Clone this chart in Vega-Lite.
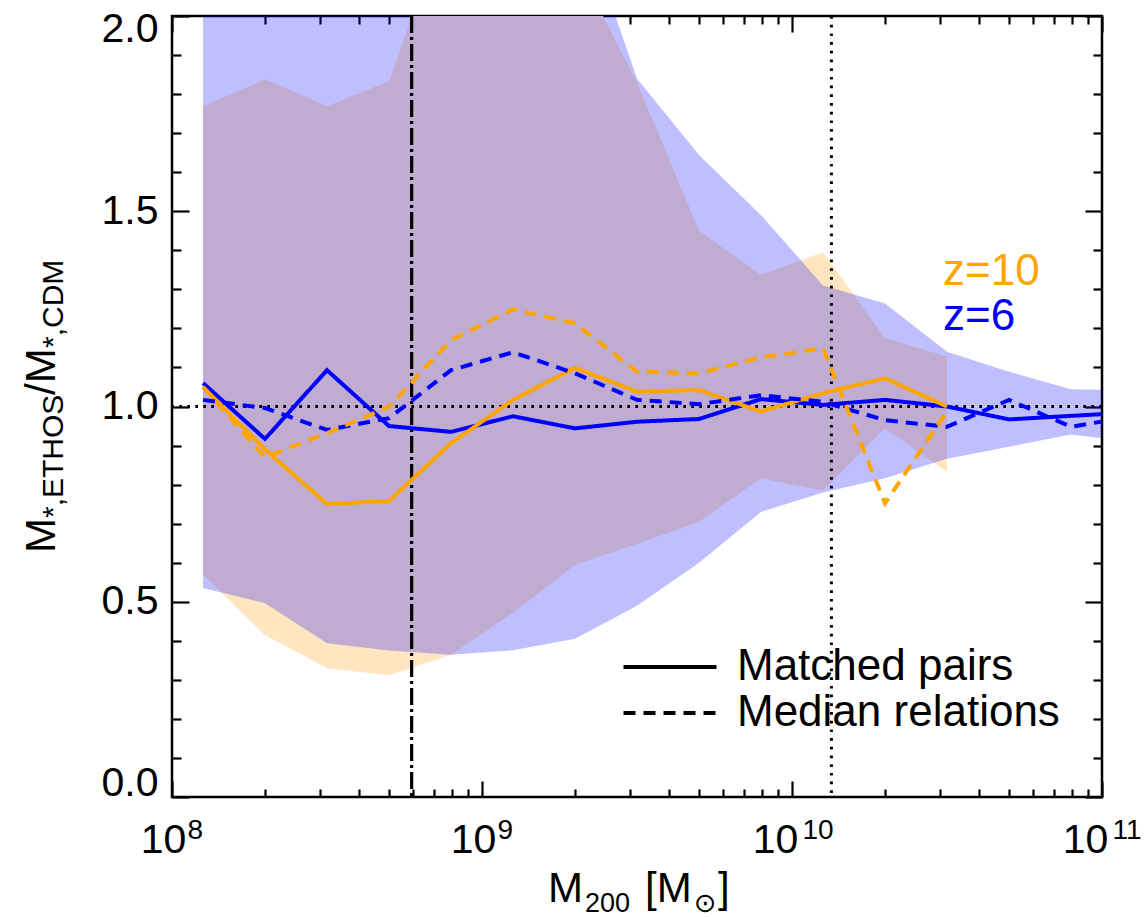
{
  "$schema": "https://vega.github.io/schema/vega-lite/v6.json",
  "width": 930,
  "height": 781,
  "autosize": {"type": "none"},
  "padding": {"left": 172, "top": 16, "right": 44, "bottom": 120},
  "background": "white",
  "config": {
    "font": "Liberation Sans",
    "view": {"stroke": "black", "strokeWidth": 2.5},
    "axis": {"grid": false, "domain": false, "tickColor": "black", "tickWidth": 2.2, "labelFont": "Liberation Sans", "labelColor": "black"}
  },
  "datasets": {
    "bands": [
      {"m": 1.259e8, "z": "z=6", "lo": 0.535, "hi": 2.6},
      {"m": 1.995e8, "z": "z=6", "lo": 0.496, "hi": 2.6},
      {"m": 3.162e8, "z": "z=6", "lo": 0.394, "hi": 2.6},
      {"m": 5.012e8, "z": "z=6", "lo": 0.375, "hi": 2.6},
      {"m": 7.943e8, "z": "z=6", "lo": 0.364, "hi": 2.6},
      {"m": 1.259e9, "z": "z=6", "lo": 0.376, "hi": 2.6},
      {"m": 1.995e9, "z": "z=6", "lo": 0.405, "hi": 2.3},
      {"m": 3.162e9, "z": "z=6", "lo": 0.49, "hi": 1.84},
      {"m": 5.012e9, "z": "z=6", "lo": 0.60, "hi": 1.644},
      {"m": 7.943e9, "z": "z=6", "lo": 0.73, "hi": 1.49},
      {"m": 1.259e10, "z": "z=6", "lo": 0.78, "hi": 1.31},
      {"m": 1.995e10, "z": "z=6", "lo": 0.816, "hi": 1.264},
      {"m": 3.162e10, "z": "z=6", "lo": 0.866, "hi": 1.14},
      {"m": 5.012e10, "z": "z=6", "lo": 0.897, "hi": 1.089},
      {"m": 7.943e10, "z": "z=6", "lo": 0.928, "hi": 1.044},
      {"m": 1.259e11, "z": "z=6", "lo": 0.91, "hi": 1.042},
      {"m": 1.259e8, "z": "z=10", "lo": 0.57, "hi": 1.768},
      {"m": 1.995e8, "z": "z=10", "lo": 0.415, "hi": 1.838},
      {"m": 3.162e8, "z": "z=10", "lo": 0.33, "hi": 1.769},
      {"m": 5.012e8, "z": "z=10", "lo": 0.312, "hi": 1.833},
      {"m": 7.943e8, "z": "z=10", "lo": 0.364, "hi": 2.28},
      {"m": 1.259e9, "z": "z=10", "lo": 0.472, "hi": 2.4},
      {"m": 1.995e9, "z": "z=10", "lo": 0.594, "hi": 2.14},
      {"m": 3.162e9, "z": "z=10", "lo": 0.648, "hi": 1.83},
      {"m": 5.012e9, "z": "z=10", "lo": 0.705, "hi": 1.45},
      {"m": 7.943e9, "z": "z=10", "lo": 0.816, "hi": 1.337},
      {"m": 1.259e10, "z": "z=10", "lo": 0.785, "hi": 1.395},
      {"m": 1.995e10, "z": "z=10", "lo": 0.944, "hi": 1.175},
      {"m": 3.162e10, "z": "z=10", "lo": 0.833, "hi": 1.128}
    ],
    "lines": [
      {"m": 1.259e8, "z": "z=6", "kind": "Matched pairs", "ratio": 1.06},
      {"m": 1.995e8, "z": "z=6", "kind": "Matched pairs", "ratio": 0.917},
      {"m": 3.162e8, "z": "z=6", "kind": "Matched pairs", "ratio": 1.093},
      {"m": 5.012e8, "z": "z=6", "kind": "Matched pairs", "ratio": 0.95},
      {"m": 7.943e8, "z": "z=6", "kind": "Matched pairs", "ratio": 0.935},
      {"m": 1.259e9, "z": "z=6", "kind": "Matched pairs", "ratio": 0.975},
      {"m": 1.995e9, "z": "z=6", "kind": "Matched pairs", "ratio": 0.944},
      {"m": 3.162e9, "z": "z=6", "kind": "Matched pairs", "ratio": 0.961},
      {"m": 5.012e9, "z": "z=6", "kind": "Matched pairs", "ratio": 0.968},
      {"m": 7.943e9, "z": "z=6", "kind": "Matched pairs", "ratio": 1.019},
      {"m": 1.259e10, "z": "z=6", "kind": "Matched pairs", "ratio": 1.004},
      {"m": 1.995e10, "z": "z=6", "kind": "Matched pairs", "ratio": 1.017},
      {"m": 3.162e10, "z": "z=6", "kind": "Matched pairs", "ratio": 1.0},
      {"m": 5.012e10, "z": "z=6", "kind": "Matched pairs", "ratio": 0.967},
      {"m": 7.943e10, "z": "z=6", "kind": "Matched pairs", "ratio": 0.976},
      {"m": 1.259e11, "z": "z=6", "kind": "Matched pairs", "ratio": 0.985},
      {"m": 1.259e8, "z": "z=10", "kind": "Matched pairs", "ratio": 1.05},
      {"m": 1.995e8, "z": "z=10", "kind": "Matched pairs", "ratio": 0.89},
      {"m": 3.162e8, "z": "z=10", "kind": "Matched pairs", "ratio": 0.75},
      {"m": 5.012e8, "z": "z=10", "kind": "Matched pairs", "ratio": 0.758},
      {"m": 7.943e8, "z": "z=10", "kind": "Matched pairs", "ratio": 0.906},
      {"m": 1.259e9, "z": "z=10", "kind": "Matched pairs", "ratio": 1.017},
      {"m": 1.995e9, "z": "z=10", "kind": "Matched pairs", "ratio": 1.099},
      {"m": 3.162e9, "z": "z=10", "kind": "Matched pairs", "ratio": 1.038},
      {"m": 5.012e9, "z": "z=10", "kind": "Matched pairs", "ratio": 1.042},
      {"m": 7.943e9, "z": "z=10", "kind": "Matched pairs", "ratio": 0.987},
      {"m": 1.259e10, "z": "z=10", "kind": "Matched pairs", "ratio": 1.034},
      {"m": 1.995e10, "z": "z=10", "kind": "Matched pairs", "ratio": 1.072},
      {"m": 3.162e10, "z": "z=10", "kind": "Matched pairs", "ratio": 1.0},
      {"m": 1.259e8, "z": "z=6", "kind": "Median relations", "ratio": 1.017},
      {"m": 1.995e8, "z": "z=6", "kind": "Median relations", "ratio": 0.996},
      {"m": 3.162e8, "z": "z=6", "kind": "Median relations", "ratio": 0.94},
      {"m": 5.012e8, "z": "z=6", "kind": "Median relations", "ratio": 0.97},
      {"m": 7.943e8, "z": "z=6", "kind": "Median relations", "ratio": 1.093},
      {"m": 1.259e9, "z": "z=6", "kind": "Median relations", "ratio": 1.139},
      {"m": 1.995e9, "z": "z=6", "kind": "Median relations", "ratio": 1.085},
      {"m": 3.162e9, "z": "z=6", "kind": "Median relations", "ratio": 1.017},
      {"m": 5.012e9, "z": "z=6", "kind": "Median relations", "ratio": 1.006},
      {"m": 7.943e9, "z": "z=6", "kind": "Median relations", "ratio": 1.029},
      {"m": 1.259e10, "z": "z=6", "kind": "Median relations", "ratio": 1.012},
      {"m": 1.995e10, "z": "z=6", "kind": "Median relations", "ratio": 0.965},
      {"m": 3.162e10, "z": "z=6", "kind": "Median relations", "ratio": 0.948},
      {"m": 5.012e10, "z": "z=6", "kind": "Median relations", "ratio": 1.017},
      {"m": 7.943e10, "z": "z=6", "kind": "Median relations", "ratio": 0.948},
      {"m": 1.259e11, "z": "z=6", "kind": "Median relations", "ratio": 0.975},
      {"m": 1.259e8, "z": "z=10", "kind": "Median relations", "ratio": 1.05},
      {"m": 1.995e8, "z": "z=10", "kind": "Median relations", "ratio": 0.87},
      {"m": 3.162e8, "z": "z=10", "kind": "Median relations", "ratio": 0.932},
      {"m": 5.012e8, "z": "z=10", "kind": "Median relations", "ratio": 0.999},
      {"m": 7.943e8, "z": "z=10", "kind": "Median relations", "ratio": 1.17},
      {"m": 1.259e9, "z": "z=10", "kind": "Median relations", "ratio": 1.249},
      {"m": 1.995e9, "z": "z=10", "kind": "Median relations", "ratio": 1.213},
      {"m": 3.162e9, "z": "z=10", "kind": "Median relations", "ratio": 1.089},
      {"m": 5.012e9, "z": "z=10", "kind": "Median relations", "ratio": 1.085},
      {"m": 7.943e9, "z": "z=10", "kind": "Median relations", "ratio": 1.126},
      {"m": 1.259e10, "z": "z=10", "kind": "Median relations", "ratio": 1.149},
      {"m": 1.995e10, "z": "z=10", "kind": "Median relations", "ratio": 0.752},
      {"m": 3.162e10, "z": "z=10", "kind": "Median relations", "ratio": 0.987}
    ]
  },
  "resolve": {"axis": {"x": "independent", "y": "independent"}},
  "layer": [
    {
      "data": {"name": "bands"},
      "transform": [{"filter": "datum.z == 'z=10'"}],
      "mark": {"type": "area", "clip": true, "color": "#FFE6C0", "opacity": 1},
      "encoding": {
        "x": {"field": "m", "type": "quantitative", "scale": {"type": "log", "domain": [1e8, 1e11], "nice": false},
          "axis": {"orient": "bottom", "values": [1e8, 1e9, 1e10, 1e11], "tickSize": -16, "labelPadding": 71, "labelFontSize": 41, "labelFlush": false, "labelBaseline": "alphabetic",
            "labelExpr": "'10'", "title": null,
            "labelOffset": {"condition": {"test": "datum.value < 5e9", "value": -9}, "value": -17}}},
        "y": {"field": "hi", "type": "quantitative", "scale": {"domain": [0, 2], "nice": false, "zero": false},
          "axis": {"orient": "left", "values": [0, 0.5, 1, 1.5, 2], "format": ".1f", "tickSize": -17, "labelPadding": 31, "labelFontSize": 41, "labelFlush": true, "labelFlushOffset": 7, "title": null}},
        "y2": {"field": "lo"}
      }
    },
    {
      "data": {"name": "bands"},
      "transform": [{"filter": "datum.z == 'z=6'"}],
      "mark": {"type": "area", "clip": true, "color": "#0000FF", "opacity": 0.25},
      "encoding": {
        "x": {"field": "m", "type": "quantitative",
          "axis": {"orient": "bottom", "values": [2e8, 3e8, 4e8, 5e8, 6e8, 7e8, 8e8, 9e8, 2e9, 3e9, 4e9, 5e9, 6e9, 7e9, 8e9, 9e9, 2e10, 3e10, 4e10, 5e10, 6e10, 7e10, 8e10, 9e10], "tickSize": -8, "labels": false, "title": null}},
        "y": {"field": "hi", "type": "quantitative",
          "axis": {"orient": "left", "values": [0.1, 0.2, 0.3, 0.4, 0.6, 0.7, 0.8, 0.9, 1.1, 1.2, 1.3, 1.4, 1.6, 1.7, 1.8, 1.9], "tickSize": -9, "labels": false, "title": null}},
        "y2": {"field": "lo"}
      }
    },
    {
      "data": {"values": [{}]},
      "mark": {"type": "rule", "color": "black", "strokeWidth": 3, "strokeDash": [2.7, 5.3]},
      "encoding": {
        "y": {"datum": 1, "type": "quantitative",
          "axis": {"orient": "right", "values": [0, 0.5, 1, 1.5, 2], "tickSize": -17, "labels": false, "title": null}}
      }
    },
    {
      "data": {"values": [{}]},
      "mark": {"type": "rule", "color": "black", "strokeWidth": 3.2, "strokeDash": [17, 4, 3, 4]},
      "encoding": {
        "x": {"datum": 5.93e8, "type": "quantitative",
          "axis": {"orient": "top", "values": [1e8, 1e9, 1e10, 1e11], "tickSize": -16, "labels": false, "title": null}}
      }
    },
    {
      "data": {"values": [{}]},
      "mark": {"type": "rule", "color": "black", "strokeWidth": 3, "strokeDash": [2.7, 6]},
      "encoding": {
        "x": {"datum": 1.34e10, "type": "quantitative",
          "axis": {"orient": "top", "values": [2e8, 3e8, 4e8, 5e8, 6e8, 7e8, 8e8, 9e8, 2e9, 3e9, 4e9, 5e9, 6e9, 7e9, 8e9, 9e9, 2e10, 3e10, 4e10, 5e10, 6e10, 7e10, 8e10, 9e10], "tickSize": -8, "labels": false, "title": null}}
      }
    },
    {
      "data": {"name": "lines"},
      "mark": {"type": "line", "clip": true, "strokeWidth": 4},
      "encoding": {
        "x": {"field": "m", "type": "quantitative", "axis": null},
        "y": {"field": "ratio", "type": "quantitative",
          "axis": {"orient": "right", "values": [0.1, 0.2, 0.3, 0.4, 0.6, 0.7, 0.8, 0.9, 1.1, 1.2, 1.3, 1.4, 1.6, 1.7, 1.8, 1.9], "tickSize": -9, "labels": false, "title": null}},
        "color": {"field": "z", "type": "nominal",
          "scale": {"domain": ["z=10", "z=6"], "range": ["#FFA500", "#0000FF"]},
          "legend": {"orient": "none", "legendX": 727, "legendY": 234, "title": null, "symbolSize": 0, "symbolOpacity": 0, "symbolStrokeWidth": 0, "labelOffset": 0, "labelFontSize": 44, "labelFont": "Liberation Sans", "labelLimit": 0, "rowPadding": 1,
            "encode": {"labels": {"update": {"fill": {"scale": "color", "field": "value"}}}}}},
        "strokeDash": {"field": "kind", "type": "nominal",
          "scale": {"domain": ["Matched pairs", "Median relations"], "range": [[1, 0], [12, 8]]},
          "legend": {"orient": "none", "legendX": 476, "legendY": 629, "title": null, "symbolType": "M-3,0L3,0", "symbolSize": 961, "symbolStrokeWidth": 4, "symbolStrokeColor": "black", "labelOffset": 45, "labelFontSize": 44, "labelFont": "Liberation Sans", "labelColor": "black", "labelLimit": 0, "rowPadding": 2}},
        "detail": {"field": "z"}
      }
    },
    {
      "data": {"values": [{}]},
      "mark": {"type": "text", "text": "M", "font": "Liberation Sans", "fontSize": 42, "align": "left", "baseline": "alphabetic", "color": "black"},
      "encoding": {
        "x": {"datum": 1.633e9, "type": "quantitative",
          "axis": {"orient": "bottom", "values": [1e8, 1e9, 1e10, 1e11], "ticks": false, "tickSize": 0, "labelPadding": 41, "labelFontSize": 28, "labelFlush": false, "labelAlign": "left", "labelBaseline": "alphabetic",
            "labelExpr": "datum.value < 5e8 ? '8' : datum.value < 5e9 ? '9' : datum.value < 5e10 ? '10' : '11'", "title": null,
            "labelOffset": {"condition": {"test": "datum.value < 5e9", "value": 15}, "value": 10}}},
        "y": {"datum": -0.269, "type": "quantitative", "axis": null}
      }
    },
    {
      "data": {"values": [{}]},
      "mark": {"type": "text", "text": "200", "font": "Liberation Sans", "fontSize": 27, "align": "left", "baseline": "alphabetic", "color": "black"},
      "encoding": {"x": {"datum": 2.149e9, "type": "quantitative", "axis": null}, "y": {"datum": -0.2945, "type": "quantitative", "axis": null}}
    },
    {
      "data": {"values": [{}]},
      "mark": {"type": "text", "text": "[M", "font": "Liberation Sans", "fontSize": 42, "align": "left", "baseline": "alphabetic", "color": "black"},
      "encoding": {"x": {"datum": 3.357e9, "type": "quantitative", "axis": null}, "y": {"datum": -0.269, "type": "quantitative", "axis": null}}
    },
    {
      "data": {"values": [{}]},
      "mark": {"type": "text", "text": "⊙", "font": "DejaVu Sans", "fontSize": 27, "align": "left", "baseline": "alphabetic", "color": "black"},
      "encoding": {"x": {"datum": 4.83e9, "type": "quantitative", "axis": null}, "y": {"datum": -0.2945, "type": "quantitative", "axis": null}}
    },
    {
      "data": {"values": [{}]},
      "mark": {"type": "text", "text": "]", "font": "Liberation Sans", "fontSize": 42, "align": "left", "baseline": "alphabetic", "color": "black"},
      "encoding": {"x": {"datum": 5.771e9, "type": "quantitative", "axis": null}, "y": {"datum": -0.269, "type": "quantitative", "axis": null}}
    },
    {
      "data": {"values": [{}]},
      "mark": {"type": "text", "text": "M", "font": "Liberation Sans", "fontSize": 42, "align": "left", "baseline": "alphabetic", "angle": 270, "color": "black"},
      "encoding": {"x": {"datum": 4.195e7, "type": "quantitative", "axis": null}, "y": {"datum": 0.6248, "type": "quantitative", "axis": null}}
    },
    {
      "data": {"values": [{}]},
      "mark": {"type": "text", "text": "*,ETHOS", "font": "Liberation Sans", "fontSize": 30, "align": "left", "baseline": "alphabetic", "angle": 270, "color": "black"},
      "encoding": {"x": {"datum": 4.45e7, "type": "quantitative", "axis": null}, "y": {"datum": 0.7145, "type": "quantitative", "axis": null}}
    },
    {
      "data": {"values": [{}]},
      "mark": {"type": "text", "text": "/M", "font": "Liberation Sans", "fontSize": 42, "align": "left", "baseline": "alphabetic", "angle": 270, "color": "black"},
      "encoding": {"x": {"datum": 4.195e7, "type": "quantitative", "axis": null}, "y": {"datum": 1.0294, "type": "quantitative", "axis": null}}
    },
    {
      "data": {"values": [{}]},
      "mark": {"type": "text", "text": "*,CDM", "font": "Liberation Sans", "fontSize": 30, "align": "left", "baseline": "alphabetic", "angle": 270, "color": "black"},
      "encoding": {"x": {"datum": 4.45e7, "type": "quantitative", "axis": null}, "y": {"datum": 1.1498, "type": "quantitative", "axis": null}}
    }
  ]
}
